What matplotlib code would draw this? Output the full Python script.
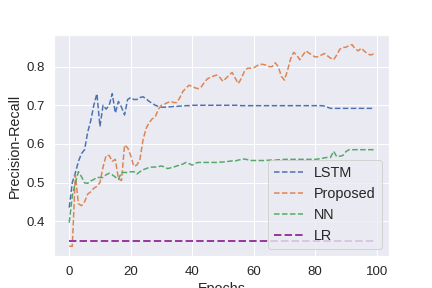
import numpy as np
import matplotlib
matplotlib.use('Agg')
import matplotlib.pyplot as plt
import seaborn as sns

epochs = np.arange(100)

lstm = [0.435, 0.50, 0.525, 0.555, 0.575, 0.585, 0.63, 0.66, 0.70, 0.73,
        0.645, 0.70, 0.69, 0.70, 0.73, 0.68, 0.71, 0.695, 0.675, 0.715,
        0.72, 0.715, 0.715, 0.72, 0.722, 0.717, 0.71, 0.705, 0.70, 0.697,
        0.695, 0.695, 0.696, 0.696, 0.697, 0.697, 0.698, 0.698, 0.699, 0.699,
        0.70, 0.70, 0.70, 0.70, 0.70, 0.70, 0.70, 0.70, 0.70, 0.70,
        0.70, 0.70, 0.70, 0.70, 0.70, 0.70, 0.699, 0.699, 0.699, 0.699,
        0.699, 0.699, 0.699, 0.699, 0.699, 0.699, 0.699, 0.699, 0.699, 0.699,
        0.699, 0.699, 0.699, 0.699, 0.699, 0.699, 0.699, 0.699, 0.699, 0.699,
        0.699, 0.699, 0.699, 0.698, 0.695, 0.692, 0.692, 0.692, 0.692, 0.692,
        0.692, 0.692, 0.692, 0.692, 0.692, 0.692, 0.692, 0.692, 0.692, 0.692]

proposed = [0.335, 0.335, 0.52, 0.445, 0.44, 0.45, 0.47, 0.476, 0.485, 0.49,
            0.50, 0.54, 0.57, 0.57, 0.555, 0.56, 0.51, 0.505, 0.597, 0.59,
            0.57, 0.542, 0.545, 0.56, 0.61, 0.64, 0.655, 0.665, 0.67, 0.69,
            0.70, 0.703, 0.707, 0.71, 0.707, 0.707, 0.72, 0.736, 0.745, 0.752,
            0.748, 0.745, 0.743, 0.748, 0.76, 0.769, 0.772, 0.776, 0.778, 0.772,
            0.762, 0.77, 0.778, 0.785, 0.77, 0.756, 0.77, 0.788, 0.796, 0.796,
            0.797, 0.802, 0.806, 0.806, 0.804, 0.80, 0.80, 0.81, 0.80, 0.775,
            0.765, 0.79, 0.82, 0.837, 0.83, 0.818, 0.83, 0.841, 0.835, 0.83,
            0.825, 0.826, 0.83, 0.834, 0.828, 0.822, 0.818, 0.83, 0.845, 0.85,
            0.85, 0.855, 0.857, 0.846, 0.841, 0.848, 0.84, 0.834, 0.83, 0.833]

nn = [0.396, 0.465, 0.50, 0.528, 0.515, 0.499, 0.498, 0.504, 0.508, 0.513,
      0.513, 0.513, 0.52, 0.524, 0.52, 0.514, 0.508, 0.526, 0.526, 0.526,
      0.528, 0.528, 0.522, 0.528, 0.533, 0.536, 0.539, 0.54, 0.54, 0.541,
      0.543, 0.54, 0.536, 0.538, 0.54, 0.543, 0.545, 0.548, 0.552, 0.549,
      0.545, 0.55, 0.552, 0.552, 0.552, 0.552, 0.552, 0.552, 0.552, 0.553,
      0.553, 0.554, 0.555, 0.556, 0.556, 0.558, 0.56, 0.561, 0.559, 0.557,
      0.557, 0.557, 0.557, 0.557, 0.557, 0.558, 0.558, 0.558, 0.559, 0.559,
      0.56, 0.56, 0.56, 0.56, 0.56, 0.56, 0.56, 0.56, 0.56, 0.56,
      0.56, 0.561, 0.562, 0.564, 0.565, 0.565, 0.581, 0.567, 0.568, 0.57,
      0.58, 0.585, 0.585, 0.585, 0.585, 0.585, 0.585, 0.585, 0.585, 0.585]

lr = [0.349] * 100

sns.set(font_scale=1.2)
plt.rcParams['font.family'] = ['Liberation Sans', 'DejaVu Sans']

fig = plt.figure(figsize=(6, 4), dpi=72)
plt.plot(epochs, lstm, '--', label='LSTM')
plt.plot(epochs, proposed, '--', label='Proposed')
plt.plot(epochs, nn, '--', label='NN')
plt.plot(epochs, lr, '--', color='#9a3a9e', linewidth=2, label='LR')

plt.xlabel('Epochs')
plt.ylabel('Precision-Recall')
plt.legend(loc='lower right', fontsize=14.4)

plt.savefig('out.png', dpi=72)
